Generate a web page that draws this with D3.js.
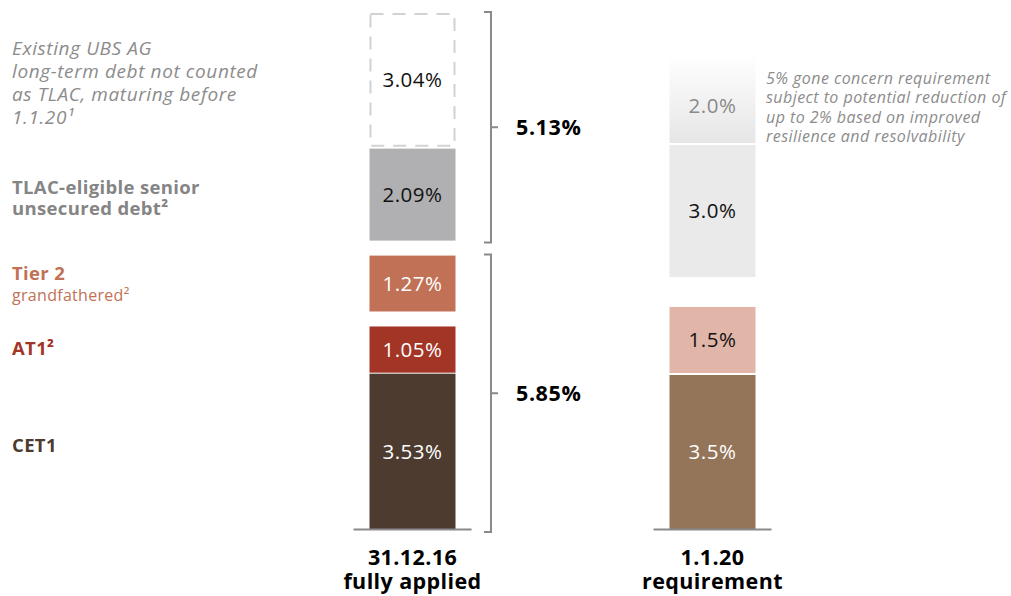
<!DOCTYPE html>
<html>
<head>
<meta charset="utf-8">
<script src="https://cdn.jsdelivr.net/npm/d3@7"></script>
<style>
  html, body { margin: 0; padding: 0; background: #fff; }
  svg { display: block; font-family: "Open Sans", "Noto Sans", sans-serif; }
</style>
</head>
<body>
<svg id="chart" width="1011" height="596"></svg>
<script>
// Columns
const columns = ["31.12.16", "1.1.20"];
const columnSubtitles = ["fully applied", "requirement"];

// 31.12.16 fully applied – stack from bottom to top
const actualKeys = ["CET1", "AT1", "Tier 2", "TLAC senior", "Existing UBS AG"];
const actualValues = [3.53, 1.05, 1.27, 2.09, 3.04];

// 1.1.20 requirement – stack from bottom to top
const requirementKeys = ["CET1", "AT1/Tier 2", "Gone concern", "Potential reduction"];
const requirementValues = [3.5, 1.5, 3.0, 2.0];

// Bracket groupings on the actual column (indices into actualValues)
const bracketGroups = [[0, 1, 2], [3, 4]];

// Left-hand category labels
const leftLabels = [
  { lines: ["Existing UBS AG", "long-term debt not counted", "as TLAC, maturing before", "1.1.20¹"], style: "italic" },
  { lines: ["TLAC-eligible senior", "unsecured debt²"], style: "bold" },
  { lines: ["Tier 2"], style: "bold", sub: "grandfathered²" },
  { lines: ["AT1²"], style: "bold" },
  { lines: ["CET1"], style: "bold" }
];

const noteLines = [
  "5% gone concern requirement",
  "subject to potential reduction of",
  "up to 2% based on improved",
  "resilience and resolvability"
];

// ---- styling / layout ----
const actualStyle = [
  { fill: "#4d3b30", text: "#ffffff" },
  { fill: "#a33526", text: "#ffffff" },
  { fill: "#c17155", text: "#ffffff" },
  { fill: "#b0b0b3", text: "#111111" },
  { fill: "none", text: "#111111", dashed: true }
];
const actualGaps = [0, 1, 15, 15, 2];

const requirementStyle = [
  { fill: "#957559", text: "#ffffff" },
  { fill: "#e1b5a8", text: "#111111" },
  { fill: "#eaeaea", text: "#111111" },
  { fill: "url(#fade)", text: "#8a8a8a", shift: 7 }
];
const requirementGaps = [0, 2, 30, 2];

const svg = d3.select("#chart");
const baseline = 529;
const barWidth = 86;

const x = d3.scalePoint().domain(columns).range([412.5, 712.5]);
const h = d3.scaleLinear().domain([0, 1]).range([0, 44]);
const fmt = d => d3.format(".2f")(d) + "%";
const fmt1 = d => d3.format(".1f")(d) + "%";

const defs = svg.append("defs");
const grad = defs.append("linearGradient").attr("id", "fade")
  .attr("x1", 0).attr("y1", 0).attr("x2", 0).attr("y2", 1);
grad.append("stop").attr("offset", "0%").attr("stop-color", "#ffffff");
grad.append("stop").attr("offset", "100%").attr("stop-color", "#e6e6e6");

function stack(values, gaps) {
  let cursor = baseline;
  return values.map((v, i) => {
    cursor -= gaps[i];
    const bottom = cursor;
    const top = cursor - h(v);
    cursor = top;
    return { value: v, top, bottom };
  });
}

const actualStack = stack(actualValues, actualGaps);
const requirementStack = stack(requirementValues, requirementGaps);

function drawColumn(col, segs, styles, format) {
  const cx = x(col);
  const g = svg.append("g");
  segs.forEach((s, i) => {
    const st = styles[i];
    if (st.dashed) {
      g.append("rect")
        .attr("x", cx - barWidth / 2 + 1).attr("y", s.top + 1)
        .attr("width", barWidth - 2).attr("height", s.bottom - s.top - 2)
        .attr("fill", "none").attr("stroke", "#d2d2d2")
        .attr("stroke-width", 2).attr("stroke-dasharray", "13,9");
    } else {
      g.append("rect")
        .attr("x", cx - barWidth / 2).attr("y", s.top)
        .attr("width", barWidth).attr("height", s.bottom - s.top)
        .attr("fill", st.fill);
    }
    g.append("text")
      .attr("x", cx).attr("y", (s.top + s.bottom) / 2 + (st.shift || 0))
      .attr("dy", "0.36em")
      .attr("text-anchor", "middle")
      .attr("font-size", 20.5)
      .attr("letter-spacing", 0.5)
      .attr("fill", st.text)
      .text(format(s.value));
  });
  // baseline
  g.append("line")
    .attr("x1", cx - barWidth / 2 - 16).attr("x2", cx + barWidth / 2 + 16)
    .attr("y1", baseline + 0.5).attr("y2", baseline + 0.5)
    .attr("stroke", "#8a8a8c").attr("stroke-width", 2.2);
}

drawColumn(columns[0], actualStack, actualStyle, fmt);
drawColumn(columns[1], requirementStack, requirementStyle, fmt1);

// brackets with group totals
const bx = 491;
bracketGroups.forEach((idx, k) => {
  const segs = idx.map(i => actualStack[i]);
  const top = d3.min(segs, s => s.top) - 1;
  const bottom = k === 0 ? baseline + 3 : d3.max(segs, s => s.bottom) + 2;
  const mid = (top + bottom) / 2;
  const total = d3.sum(idx, i => actualValues[i]);
  svg.append("path")
    .attr("d", `M${bx - 7},${top} H${bx} V${bottom} H${bx - 7} M${bx},${mid} H${bx + 7}`)
    .attr("fill", "none").attr("stroke", "#8a8a8c").attr("stroke-width", 2);
  svg.append("text")
    .attr("x", 516).attr("y", mid).attr("dy", "0.36em")
    .attr("font-size", 21.5).attr("font-weight", 700).attr("letter-spacing", 0.6)
    .attr("fill", "#000")
    .text(fmt(total));
});

// left labels
const leftColors = ["#8c8c8c", "#858585", "#c17155", "#a33526", "#4d3b30"];
const leftBaselines = [55, 194, 280, 355, 452];
leftLabels.forEach((lab, i) => {
  const italic = lab.style === "italic";
  const t = svg.append("text")
    .attr("x", 12).attr("y", leftBaselines[i])
    .attr("fill", leftColors[i])
    .attr("font-size", italic ? 19 : 18.5)
    .attr("letter-spacing", italic ? 0.6 : 0.35)
    .attr("font-weight", italic ? 400 : 700)
    .attr("font-style", italic ? "italic" : "normal");
  lab.lines.forEach((ln, j) => {
    t.append("tspan").attr("x", 12).attr("dy", j === 0 ? 0 : (italic ? 23 : 21)).text(ln);
  });
  if (lab.sub) {
    svg.append("text")
      .attr("x", 12).attr("y", leftBaselines[i] + 21)
      .attr("fill", leftColors[i]).attr("font-size", 16).attr("letter-spacing", 0.3)
      .text(lab.sub);
  }
});

// note on the requirement column
const note = svg.append("text")
  .attr("x", 766).attr("y", 84)
  .attr("fill", "#8c8c8c").attr("font-size", 16).attr("font-style", "italic")
  .attr("letter-spacing", 0.45);
noteLines.forEach((ln, j) => {
  note.append("tspan").attr("x", 766).attr("dy", j === 0 ? 0 : 19.3).text(ln);
});

// column captions
columns.forEach((c, i) => {
  const t = svg.append("text")
    .attr("x", x(c)).attr("y", 565)
    .attr("text-anchor", "middle").attr("font-size", 21.5).attr("font-weight", 700)
    .attr("letter-spacing", 0.4)
    .attr("fill", "#000");
  t.append("tspan").attr("x", x(c)).text(c);
  t.append("tspan").attr("x", x(c)).attr("dy", 24).text(columnSubtitles[i]);
});
</script>
</body>
</html>
